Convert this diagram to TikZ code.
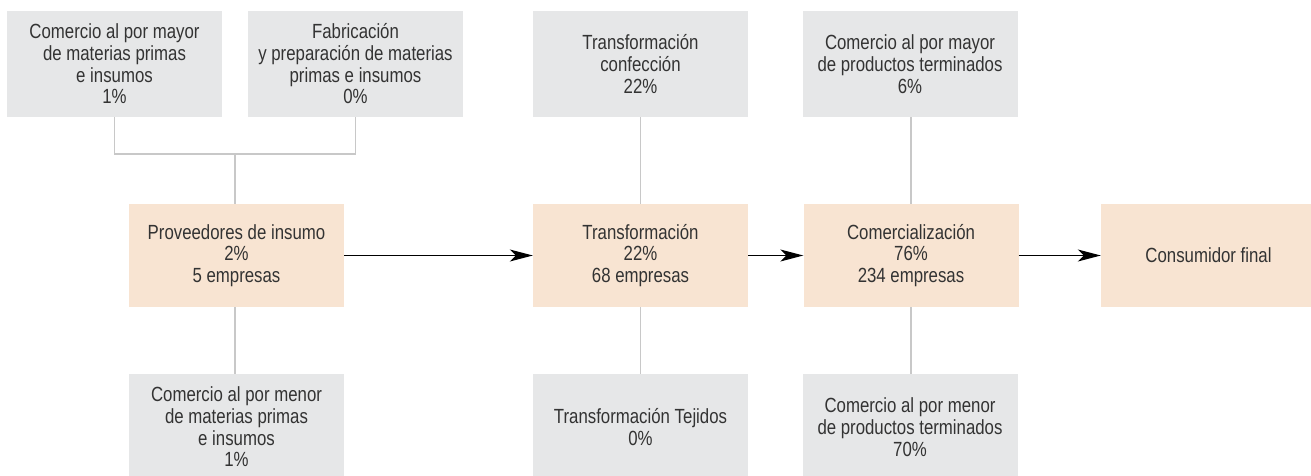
\documentclass[tikz,border=0pt]{standalone}
\usepackage{fontspec}
\setmainfont{Liberation Sans}[FakeStretch=0.82]
\usetikzlibrary{arrows.meta}
\definecolor{boxgray}{HTML}{E6E7E8}
\definecolor{boxpeach}{HTML}{F8E4D2}
\definecolor{txtgray}{HTML}{333333}
\definecolor{linegray}{HTML}{C8C8C8}
\tikzset{
  base/.style={minimum width=215pt, inner sep=0pt, align=center, text=txtgray,
    font=\fontsize{20.5}{21.7}\selectfont},
  graybox/.style={base, fill=boxgray, minimum height=106pt},
  peachbox/.style={base, fill=boxpeach, minimum height=103pt},
  conn/.style={draw=linegray, line width=1.2pt},
  flow/.style={draw=black, line width=1.3pt, -{Stealth[length=23pt, width=12pt, inset=6pt]}}
}
\begin{document}
\begin{tikzpicture}[x=1pt, y=-1pt]
\clip (0,0) rectangle (1311,476);
\useasboundingbox (0,0) rectangle (1311,476);
% boxes
\node[graybox] (tl1) at (114.5,64) {Comercio al por mayor\\de materias primas\\e insumos\\1\%};
\node[graybox] (tl2) at (355.5,64) {Fabricación\\y preparación de materias\\primas e insumos\\0\%};
\node[peachbox] (prov) at (236.5,255.5) {Proveedores de insumo\\2\%\\5 empresas};
\node[graybox] (bl) at (236.5,427) {Comercio al por menor\\de materias primas\\e insumos\\1\%};
\node[graybox] (tt) at (640.5,64) {Transformación\\confección\\22\%};
\node[peachbox] (trans) at (640.5,255.5) {Transformación\\22\%\\68 empresas};
\node[graybox] (tb) at (640.5,427) {Transformación Tejidos\\0\%};
\node[graybox] (ct) at (910,64) {Comercio al por mayor\\de productos terminados\\6\%};
\node[peachbox] (com) at (911,255.5) {Comercialización\\76\%\\234 empresas};
\node[graybox] (cb) at (910,427) {Comercio al por menor\\de productos terminados\\70\%};
\node[peachbox] (cons) at (1208.5,255.5) {Consumidor final};
% gray connectors
\coordinate (j) at (235,154);
\draw[conn] (tl1.south) |- (j) -| (tl2.south);
\draw[conn] (j) -- (prov.north -| j);
\draw[conn] (prov.south -| j) -- (bl.north -| j);
\draw[conn] (tt.south) -- (trans.north);
\draw[conn] (trans.south) -- (tb.north);
\draw[conn] (ct.south -| com.north) -- (com.north);
\draw[conn] (com.south) -- (cb.north -| com.south);
% flow arrows
\draw[flow] (prov.east) -- (trans.west);
\draw[flow] (trans.east) -- (com.west);
\draw[flow] (com.east) -- (cons.west);
\end{tikzpicture}
\end{document}
